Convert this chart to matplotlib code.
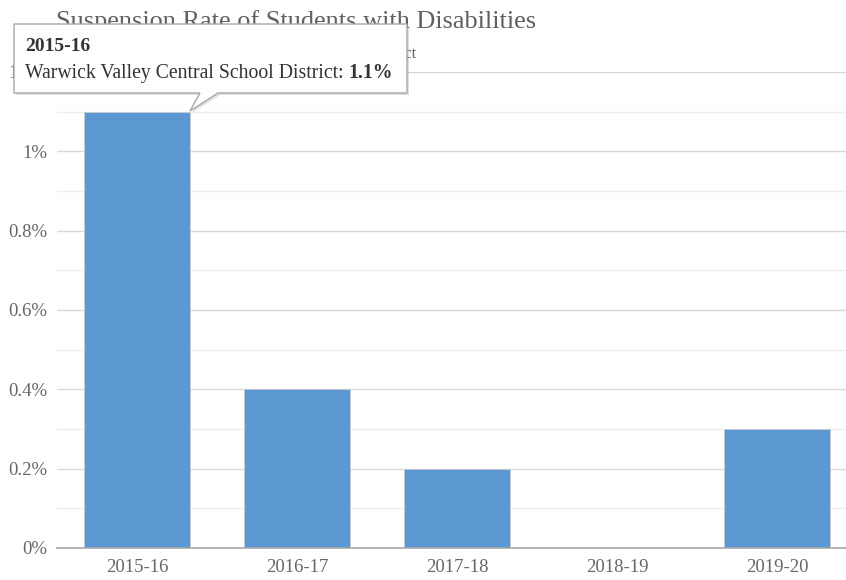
import numpy as np
import matplotlib
matplotlib.use("Agg")
import matplotlib.pyplot as plt
from matplotlib.patches import Polygon
from matplotlib.ticker import MultipleLocator, FuncFormatter

# Datos
years = ["2015-16", "2016-17", "2017-18", "2018-19", "2019-20"]
rates = [1.1, 0.4, 0.2, 0.0, 0.3]

title = "Suspension Rate of Students with Disabilities"
subtitle = "Warwick Valley Central School District"
tip_year = years[0]
tip_label = "Warwick Valley Central School District: "
tip_value = f"{rates[0]}%"

W, H = 846, 580
plt.rcParams["font.family"] = ["Liberation Serif", "DejaVu Serif"]

fig = plt.figure(figsize=(W / 100, H / 100), dpi=100)


def fx(x):
    return x / W


def fy(y):
    return 1 - y / H


# Área del gráfico (px)
left, right, top, bottom = 57, 846, 72, 548
ax = fig.add_axes([fx(left), fy(bottom), fx(right - left), (bottom - top) / H])

ax.bar(range(len(years)), rates, width=0.66, color="#5b97d1",
       edgecolor="#c8ccd2", linewidth=0.6, zorder=3)

ax.set_xlim(-0.5, (right - left) / 160 - 0.5)
ax.set_ylim(0, 1.2)
ax.yaxis.set_major_locator(MultipleLocator(0.2))
ax.yaxis.set_minor_locator(MultipleLocator(0.1))
ax.yaxis.set_major_formatter(FuncFormatter(lambda v, _: f"{v:g}%"))
ax.grid(axis="y", which="major", color="#d9d9d9", linewidth=1, zorder=0)
ax.grid(axis="y", which="minor", color="#eeeeee", linewidth=1, zorder=0)
ax.set_xticks(range(len(years)))
ax.set_xticklabels(years)
ax.tick_params(axis="both", which="both", length=0, labelsize=13.5,
               labelcolor="#666666")
ax.tick_params(axis="y", pad=7)
ax.tick_params(axis="x", pad=8)
for side in ["top", "right", "left"]:
    ax.spines[side].set_visible(False)
ax.spines["bottom"].set_color("#a8a8a8")
ax.spines["bottom"].set_linewidth(1.2)
ax.spines["bottom"].set_zorder(4)

# Títulos
fig.text(fx(296), fy(28), title, ha="center", va="baseline",
         fontsize=18.9, color="#5f5f5f")
fig.text(fx(416), fy(58), subtitle, ha="right", va="baseline",
         fontsize=12, color="#666666")

# Tooltip
pts = [(14, 24), (407, 24), (407, 93), (218, 93), (190, 111),
       (200, 93), (14, 93)]
shadow = Polygon([(fx(x + 2), fy(y + 2)) for x, y in pts], closed=True,
                 transform=fig.transFigure, facecolor="#000000", alpha=0.12,
                 edgecolor="none", zorder=9)
box = Polygon([(fx(x), fy(y)) for x, y in pts], closed=True,
              transform=fig.transFigure, facecolor="white",
              edgecolor="#a8a8a8", linewidth=1, zorder=10)
fig.patches.extend([shadow, box])

fig.text(fx(25), fy(51), tip_year, ha="left", va="baseline", fontsize=14,
         fontweight="bold", color="#333333", zorder=11)
t = fig.text(fx(25), fy(78), tip_label, ha="left", va="baseline",
             fontsize=14.2, color="#333333", zorder=11)
fig.canvas.draw()
bb = t.get_window_extent()
fig.text(bb.x1 / W, fy(78), tip_value, ha="left", va="baseline",
         fontsize=14.2, fontweight="bold", color="#333333", zorder=11)

fig.savefig("out.png", dpi=100)
